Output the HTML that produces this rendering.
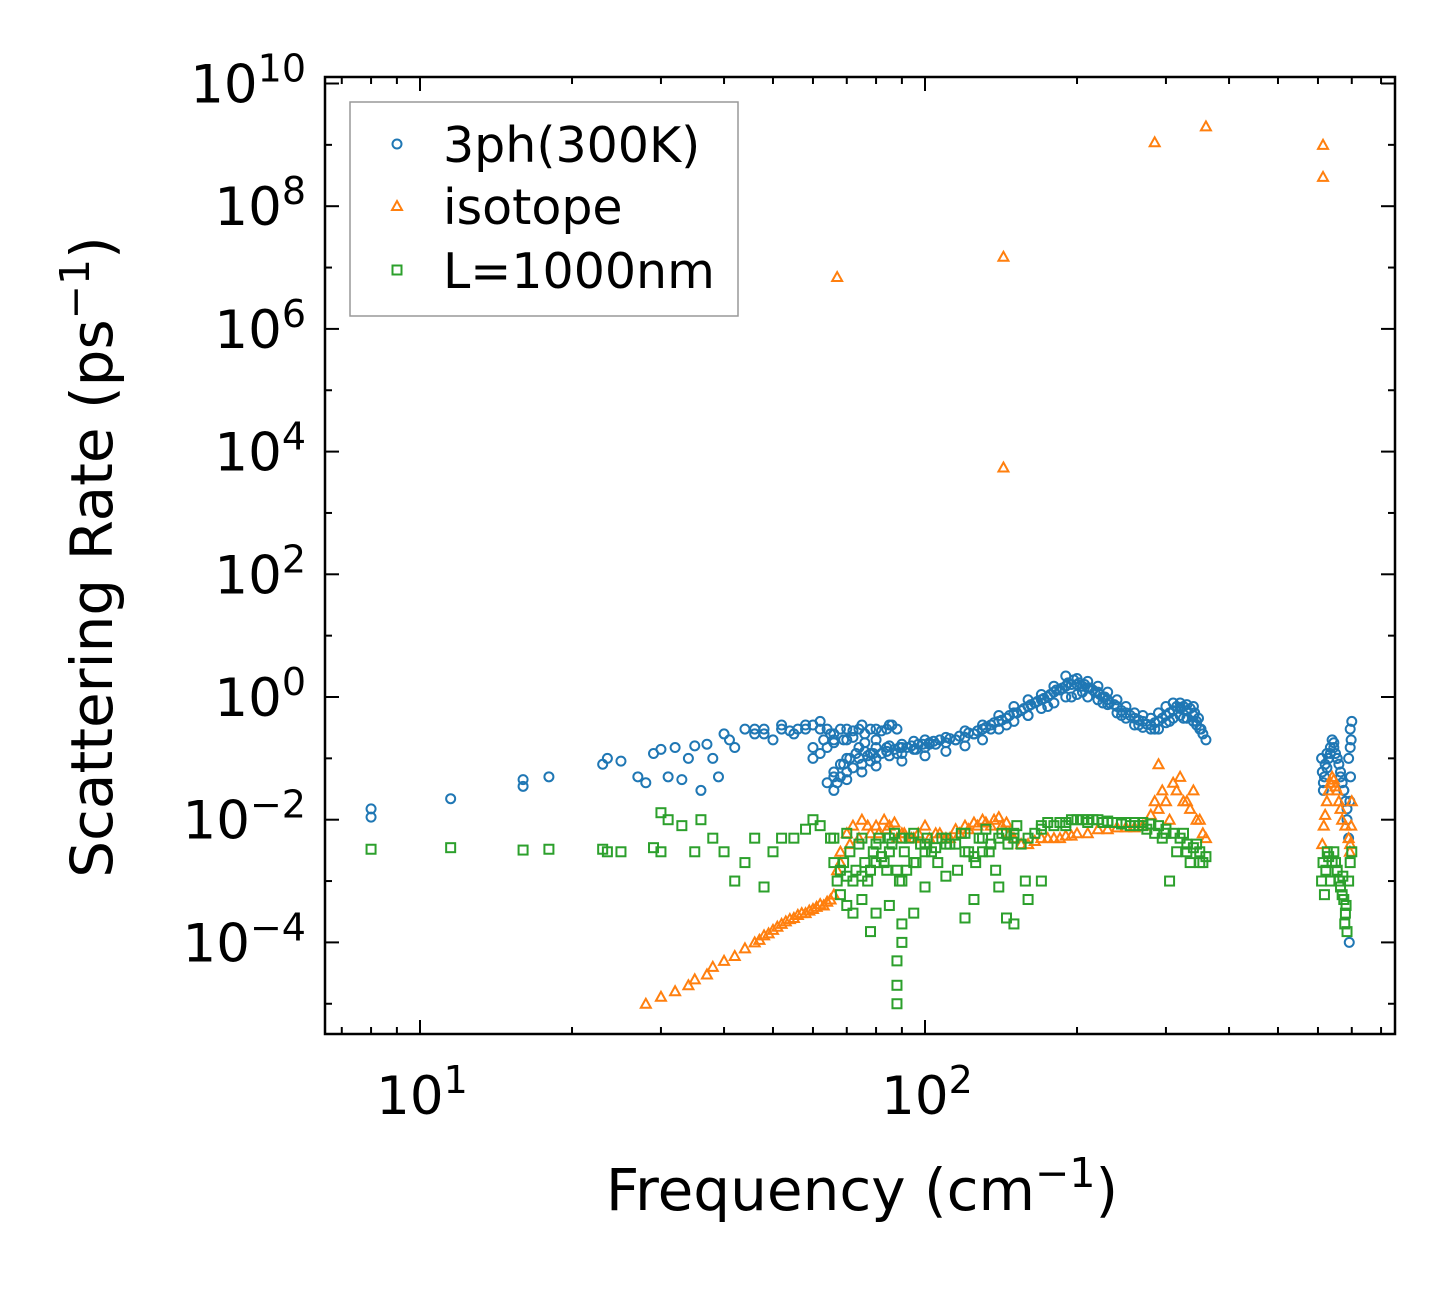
<!DOCTYPE html>
<html><head><meta charset="utf-8">
<style>
body{margin:0;background:#fff;}
svg text{font-family:"DejaVu Sans","Liberation Sans",sans-serif;fill:#000;}
</style></head>
<body>
<svg id="chart" width="1455" height="1284" viewBox="0 0 1455 1284" xmlns="http://www.w3.org/2000/svg">
<rect width="1455" height="1284" fill="#fff"/>
<g id="marks"></g>
<g id="axes"></g>
<g id="legend">
<rect x="350" y="102" width="388" height="214" fill="#fff" fill-opacity="0.8" stroke="#999" stroke-width="1.5"/>
<circle cx="397" cy="144" r="4.5" fill="none" stroke="#1f77b4" stroke-width="2"/>
<text x="443" y="162" font-size="49">3ph(300K)</text>
<path d="M397,201 L402,210 L392,210 Z" fill="none" stroke="#ff7f0e" stroke-width="2"/>
<text x="443" y="224" font-size="49">isotope</text>
<rect x="392.5" y="265.5" width="9" height="9" fill="none" stroke="#2ca02c" stroke-width="2"/>
<text x="443" y="288" font-size="49">L=1000nm</text>
</g>
</svg>
<script>
const blueF=[8,8,11.5,16,16,18,23,23.5,25,27,28,29,30,31,32,33,34,35,36,37,38,39,40,41,42,44,46,48,50,52,55,58,60,62,65,70,75,80,85,
66,67,68,70,72,75,78,80,85,90,95,100,105,110,115,120,125,130,135,140,145,150,155,160,165,170,175,180,185,190,195,200,205,210,215,220,225,230,240,250,260,270,280,290,300,310,320,330,340,345,350,355,360,
66,68,70,73,76,80,85,90,95,100,110,120,130,140,150,160,170,180,190,200,210,220,230,240,250,260,270,280,290,300,310,320,330,340,
60,62,64,66,70,74,78,84,90,96,102,115,125,135,145,160,175,195,205,225,245,265,285,305,325,345];
const blueF2=[64,66,69,71,74,77,79,82,84,87,89,92,94,97,99,102,104,107,112,117,122,127,132,137,142,147,152,157,162,167,172,177,182,187,192,197,202,207,212,217,222,227,232,237,245,255,265,275,285,295,305,315,325,335,342,348,352,
70,75,80,90,100,110,120,130,140,150,160,170,180,190,200,210,220,230,240,250,260,270,280,290,300,310,320,330,340,
46,48,52,54,56,58,62,64,66,68,72,74,76,78,82,84,86,88,
60,63,66,69,72,76,80,84,88];
const blueF3=[610,612,615,618,620,625,630,635,640,645,650,655,660,665,670,675,680,685,690,695,700,698,696,694,692,690,615,625,635,645,655,665,675,685,695];
const blueV=[0.015,0.011,0.022,0.045,0.035,0.05,0.08,0.1,0.09,0.05,0.04,0.12,0.14,0.05,0.15,0.045,0.1,0.16,0.03,0.17,0.1,0.05,0.25,0.2,0.15,0.3,0.25,0.3,0.2,0.3,0.25,0.3,0.35,0.3,0.25,0.3,0.35,0.3,0.35,
0.03,0.04,0.05,0.06,0.07,0.08,0.09,0.1,0.11,0.12,0.14,0.15,0.17,0.18,0.2,0.22,0.25,0.3,0.35,0.4,0.45,0.55,0.6,0.7,0.8,0.9,1.0,1.2,1.3,1.5,1.6,1.6,1.5,1.4,1.3,1.2,1.0,0.9,0.7,0.55,0.45,0.4,0.35,0.4,0.5,0.6,0.65,0.6,0.5,0.4,0.3,0.25,0.2,
0.06,0.08,0.1,0.12,0.13,0.15,0.16,0.17,0.19,0.2,0.22,0.28,0.35,0.5,0.7,0.9,1.1,1.5,2.2,2.0,1.8,1.5,1.2,0.9,0.7,0.55,0.5,0.45,0.55,0.7,0.8,0.8,0.75,0.7,
0.1,0.12,0.15,0.2,0.2,0.15,0.12,0.13,0.15,0.14,0.17,0.2,0.25,0.3,0.35,0.5,0.7,1.0,1.2,0.8,0.5,0.35,0.3,0.4,0.45,0.35];
const blueV2=[0.04,0.05,0.08,0.1,0.1,0.11,0.12,0.12,0.13,0.14,0.15,0.15,0.16,0.17,0.17,0.18,0.19,0.2,0.21,0.23,0.26,0.28,0.32,0.38,0.42,0.5,0.55,0.65,0.75,0.85,0.95,1.1,1.3,1.4,1.7,1.9,1.7,1.6,1.4,1.2,1.1,1.0,0.8,0.75,0.6,0.5,0.42,0.36,0.38,0.45,0.55,0.7,0.7,0.65,0.55,0.45,0.3,
0.045,0.06,0.075,0.09,0.11,0.13,0.16,0.2,0.3,0.4,0.5,0.65,0.8,1.0,1.1,1.0,0.9,0.75,0.55,0.45,0.35,0.32,0.3,0.3,0.38,0.45,0.5,0.45,0.4,
0.3,0.25,0.35,0.28,0.3,0.35,0.4,0.3,0.25,0.3,0.28,0.3,0.25,0.3,0.28,0.3,0.35,0.3,
0.15,0.2,0.18,0.2,0.22,0.18,0.2,0.15,0.12];
const blueV3=[0.1,0.06,0.03,0.05,0.08,0.12,0.1,0.15,0.2,0.15,0.12,0.1,0.08,0.06,0.04,0.03,0.02,0.015,0.1,0.3,0.4,0.2,0.05,0.02,0.0001,0.005,0.04,0.07,0.12,0.18,0.1,0.05,0.03,0.01,0.15];
const orangeF=[28,30,32,34,35,37,38,40,42,44,46,48,50,52,55,58,60,63,65,66,67,68,70,72,75,78,80,83,85,88,90,95,100,105,110,115,120,125,130,135,140,145,150,160,170,180,190,200,220,240,260,280,285,290,300,310,320,330,340,350,360,
67,143,143,285,360,614,614];
const orangeF2=[68,71,74,77,81,84,87,91,94,97,102,107,112,117,122,127,132,137,142,147,155,165,175,185,195,210,230,250,270,290,295,305,315,325,335,345,355,
47,49,51,53,54,56,57,59,61,62,64];
const orangeF3=[612,616,620,625,630,635,640,645,650,655,660,665,670,680,690,695,700,698,694];
const orangeV=[1e-5,1.3e-5,1.6e-5,2e-5,2.5e-5,3e-5,4e-5,5e-5,6e-5,8e-5,1e-4,1.3e-4,1.6e-4,2e-4,2.5e-4,3e-4,3.5e-4,4e-4,5e-4,6e-4,1.5e-3,3e-3,6e-3,8e-3,1e-2,6e-3,8e-3,1e-2,8e-3,5e-3,6e-3,5e-3,8e-3,6e-3,5e-3,7e-3,8e-3,9e-3,1e-2,8e-3,1.1e-2,9e-3,5e-3,4e-3,5e-3,5e-3,5.5e-3,6e-3,7e-3,7.5e-3,7.5e-3,1.2e-2,2e-2,0.08,0.02,0.04,0.05,0.02,0.03,0.01,5e-3,
7e6,1.5e7,5.5e3,1.1e9,2e9,1e9,3e8];
const orangeV2=[2e-3,4e-3,5e-3,8e-3,6e-3,7e-3,9e-3,6e-3,5e-3,6e-3,5e-3,6e-3,5e-3,6e-3,7e-3,8e-3,9e-3,1e-2,8e-3,6e-3,4e-3,4.5e-3,5e-3,5e-3,5.5e-3,6e-3,7e-3,7.5e-3,8e-3,0.015,0.03,0.01,0.03,0.02,0.015,0.01,0.006,
1.1e-4,1.4e-4,1.8e-4,2.2e-4,2.4e-4,2.8e-4,3e-4,3.3e-4,3.8e-4,4.2e-4,4.6e-4];
const orangeV3=[0.004,0.008,0.012,0.02,0.03,0.04,0.05,0.045,0.035,0.03,0.02,0.015,0.01,0.008,0.005,0.004,0.02,0.008,0.003];
const greenF=[8,11.5,16,18,23,23.5,25,29,30,30,31,33,35,36,38,40,42,44,46,48,50,52,55,58,60,62,65,
66,68,70,72,75,78,80,82,85,88,90,92,95,100,105,110,115,120,125,130,135,140,145,150,155,160,170,180,190,200,210,220,230,240,250,260,270,280,290,300,310,320,330,340,350,360,
68,70,72,75,78,80,85,88,88,88,90,90,95,100,110,120,125,140,145,150,160,170,
66,70,75,80,85,90,95,100,110,120,130,150,170,190,210,240,270,300,330,350];
const greenF2=[67,69,71,73,74,76,77,79,81,83,84,86,87,89,91,93,96,98,101,103,106,108,112,116,118,122,126,128,132,134,138,142,146,152,158,165,175,185,195,205,215,225,235,245,255,265,275,285,295,305,315,325,335,345,355];
const greenF3=[610,614,618,622,626,630,635,640,645,650,655,660,665,670,675,680,685,690,695,700,678,682,672];
const greenV=[3.3e-3,3.5e-3,3.2e-3,3.3e-3,3.3e-3,3e-3,3e-3,3.5e-3,1.3e-2,3e-3,1e-2,8e-3,3e-3,1e-2,5e-3,3e-3,1e-3,2e-3,5e-3,8e-4,3e-3,5e-3,5e-3,7e-3,1e-2,8e-3,5e-3,
2e-3,1.5e-3,1.2e-3,1e-3,1.2e-3,1.5e-3,2e-3,2.5e-3,3e-3,1.5e-3,1e-3,1.5e-3,2e-3,3e-3,3.5e-3,4e-3,4e-3,3e-3,2.5e-3,3e-3,4e-3,5e-3,6e-3,5e-3,4e-3,5e-3,7e-3,8e-3,9e-3,1e-2,1e-2,1e-2,9.5e-3,9e-3,9e-3,9e-3,9e-3,8.5e-3,8e-3,7e-3,6e-3,5e-3,4e-3,3.5e-3,3e-3,2.5e-3,
6e-4,4e-4,3e-4,5e-4,1.5e-4,3e-4,4e-4,1e-5,2e-5,5e-5,1e-4,2e-4,3e-4,8e-4,1.2e-3,2.5e-4,5e-4,8e-4,2.5e-4,2e-4,5e-4,1e-3,
5e-3,6e-3,5e-3,4e-3,5e-3,5e-3,6e-3,4e-3,5e-3,6e-3,5e-3,6e-3,8e-3,8e-3,9e-3,9e-3,8e-3,6e-3,3e-3,2e-3];
const greenV2=[1e-3,2e-3,3e-3,1.5e-3,4e-3,2e-3,1e-3,3e-3,5e-3,2e-3,1.5e-3,4e-3,6e-3,1e-3,3e-3,5e-3,2e-3,4e-3,5e-3,3e-3,2e-3,5e-3,4e-3,1.5e-3,6e-3,3e-3,2e-3,5e-3,7e-3,3e-3,1.5e-3,6e-3,4e-3,8e-3,1e-3,6e-3,9e-3,9e-3,1e-2,1e-2,1e-2,9e-3,9e-3,8.5e-3,8e-3,8e-3,7e-3,6e-3,5e-3,1e-3,3e-3,6e-3,2e-3,4e-3,2e-3];
const greenV3=[1e-3,2e-3,6e-4,1.5e-3,3e-3,2.5e-3,1e-3,2e-3,3e-3,2e-3,1.5e-3,1e-3,8e-4,6e-4,5e-4,3e-4,1.5e-4,1e-3,2e-3,3e-3,2e-4,4e-4,1.2e-3];

const NS='http://www.w3.org/2000/svg';
const L=325,R=1395,T=77,B=1034;
function xs(f){return 420+505*(Math.log10(f)-1);}
function ys(v){return 697-61.35*Math.log10(v);}
function mk(tag,attrs,parent){const e=document.createElementNS(NS,tag);for(const k in attrs)e.setAttribute(k,attrs[k]);parent.appendChild(e);return e;}
const marks=document.getElementById('marks');
const axes=document.getElementById('axes');
const clip=mk('clipPath',{id:'pc'},marks);mk('rect',{x:L,y:T,width:R-L,height:B-T},clip);
const gB=mk('g',{'clip-path':'url(#pc)'},marks);


const gO=mk('g',{'clip-path':'url(#pc)'},marks);


const gG=mk('g',{'clip-path':'url(#pc)'},marks);


const bF=blueF.concat(blueF2,blueF3), bV=blueV.concat(blueV2,blueV3);
const oF=orangeF.concat(orangeF2,orangeF3), oV=orangeV.concat(orangeV2,orangeV3);
const gF=greenF.concat(greenF2,greenF3), gV=greenV.concat(greenV2,greenV3);
bF.forEach((f,i)=>{const c=mk('circle',{cx:xs(f),cy:ys(bV[i]),r:4.5,fill:'none',stroke:'#1f77b4','stroke-width':2},gB);

});
oF.forEach((f,i)=>{const x=xs(f),y=ys(oV[i]);const p=mk('path',{d:`M${x},${y-5} L${x+5},${y+4} L${x-5},${y+4} Z`,fill:'none',stroke:'#ff7f0e','stroke-width':2},gO);

});
gF.forEach((f,i)=>{const x=xs(f),y=ys(gV[i]);const r=mk('rect',{x:x-4.5,y:y-4.5,width:9,height:9,fill:'none',stroke:'#2ca02c','stroke-width':2},gG);

});

const frame=mk('rect',{x:L,y:T,width:R-L,height:B-T,fill:'none',stroke:'#000','stroke-width':2.5},axes);


const xMajor=[10,100];
const xLabels=['1','2'];
for(let d=1;d<=800;d*=10){for(let m=1;m<10;m++){const f=d*m;const x=xs(f);if(x<L||x>R)continue;const maj=(m===1);const len=maj?14:7;
mk('line',{x1:x,y1:B,x2:x,y2:B-len,stroke:'#000','stroke-width':2},axes);
mk('line',{x1:x,y1:T,x2:x,y2:T+len,stroke:'#000','stroke-width':2},axes);}}
xMajor.forEach((f,i)=>{const t=mk('text',{x:xs(f)+2,y:1114,'font-size':53,'text-anchor':'middle'},axes);


t.innerHTML=`10<tspan dy="-21" font-size="38">${xLabels[i]}</tspan>`;});
const yExp=[-4,-2,0,2,4,6,8,10];
for(let e=-5;e<=10;e++){const y=ys(Math.pow(10,e));const len=(e%2===0)?14:7;
mk('line',{x1:L,y1:y,x2:L+len,y2:y,stroke:'#000','stroke-width':2},axes);
mk('line',{x1:R,y1:y,x2:R-len,y2:y,stroke:'#000','stroke-width':2},axes);}
yExp.forEach(e=>{const t=mk('text',{x:306,y:ys(Math.pow(10,e))+19,'font-size':53,'text-anchor':'end'},axes);


const ex=e<0?'\u2212'+(-e):''+e;
t.innerHTML=`10<tspan dy="-21" font-size="38">${ex}</tspan>`;});
const xt=mk('text',{x:862,y:1210,'font-size':58,'text-anchor':'middle'},axes);


xt.innerHTML='Frequency (cm<tspan dy="-23" font-size="41">\u22121</tspan><tspan dy="23">)</tspan>';
const yt=mk('text',{x:0,y:0,'font-size':58,'text-anchor':'middle',transform:'translate(112,557) rotate(-90)'},axes);


yt.innerHTML='Scattering Rate (ps<tspan dy="-23" font-size="41">\u22121</tspan><tspan dy="23">)</tspan>';
</script>
</body></html>
